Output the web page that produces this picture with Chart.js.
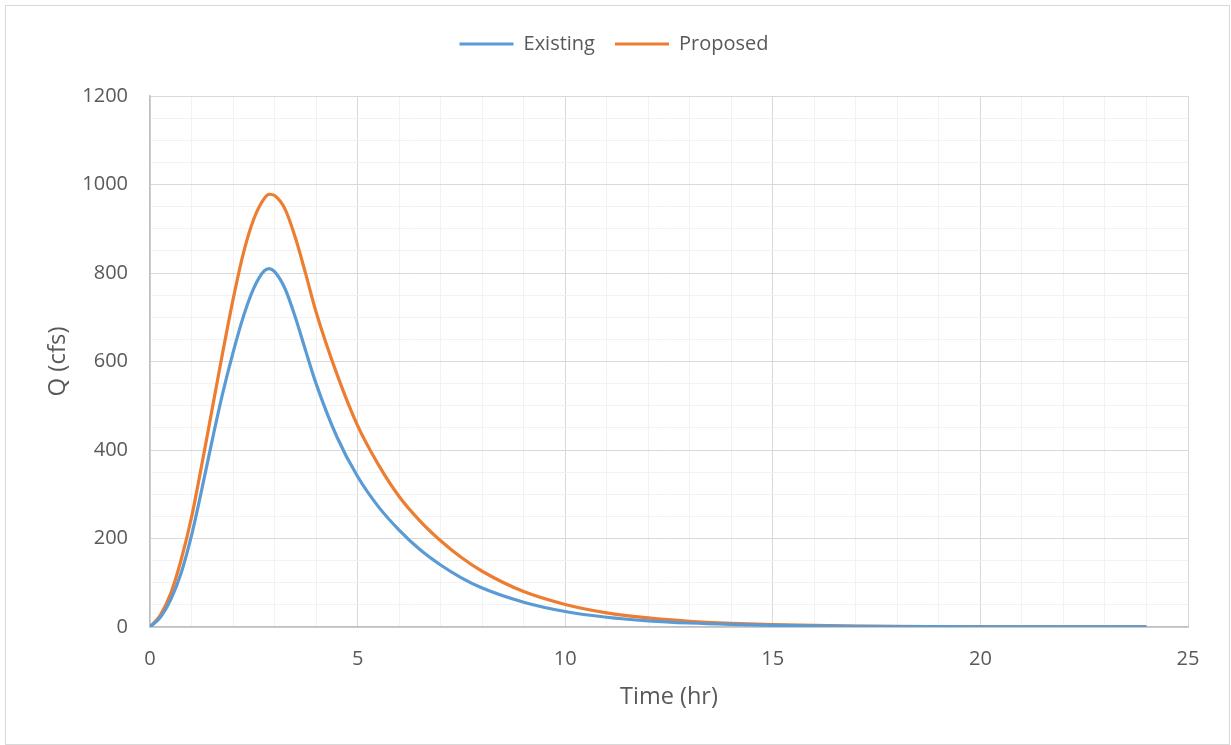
<!DOCTYPE html>
<html>
<head>
<meta charset="utf-8">
<script src="https://cdn.jsdelivr.net/npm/chart.js@4"></script>
<style>
  body { margin: 0; background: #fff; }
  #frame { position: absolute; left: 5px; top: 5px; width: 1225px; height: 740px; box-sizing: border-box; border: 1px solid #d9d9d9; }
  #wrap { position: absolute; left: 0; top: 0; width: 1231px; height: 745px; }
</style>
</head>
<body>
<div id="frame"></div>
<div id="wrap"><canvas id="hydroChart"></canvas></div>
<script>
// hydrograph values
const timeHr = [0, 0.25, 0.5, 0.75, 1, 1.25, 1.5, 1.75, 2, 2.25, 2.5, 2.75, 2.875, 3, 3.25, 3.5, 3.75, 4, 4.5, 5, 5.5, 6, 6.5, 7, 7.5, 8, 9, 10, 11, 12, 13, 14, 15, 16, 17, 18, 19, 20, 21, 22, 23, 24];
const existingQ = [0, 22, 62, 122, 207, 312, 423, 528, 620, 702, 766, 805, 810, 803, 765, 700, 624, 550, 430, 340, 272, 219, 175, 140, 111, 88, 56, 35, 22, 14, 9, 5.8, 3.7, 2.4, 1.5, 1, 0.65, 0.42, 0.27, 0.18, 0.12, 0.08];
const proposedQ = [0, 27, 76, 152, 248, 368, 494, 620, 740, 845, 922, 968, 978, 975, 945, 880, 798, 712, 572, 455, 367, 295, 240, 195, 157, 126, 80, 51, 32, 20.5, 13, 8.5, 5.5, 3.5, 2.3, 1.5, 1, 0.65, 0.42, 0.27, 0.18, 0.12];
const yTicksMajor = 200;
const xTicksMajor = 5;

function toPoints(vals) {
    return vals.map(function (v, i) { return {x: timeHr[i], y: v}; });
}

Chart.defaults.font.family = "'Open Sans', sans-serif";
Chart.defaults.color = '#595959';

// push the plot area down below the legend
const legendGap = {
    id: 'legendGap',
    beforeInit(chart) {
        const origFit = chart.legend.fit;
        chart.legend.fit = function () {
            origFit.bind(chart.legend)();
            this.height += 32;
        };
    }
};

const ctx = document.getElementById('hydroChart').getContext('2d');
const hydroChart = new Chart(ctx, {
    type: 'line',
    data: {
        datasets: [{
            label: 'Existing',
            data: toPoints(existingQ),
            borderColor: '#5B9BD5',
            backgroundColor: '#5B9BD5',
            borderWidth: 3.2,
            pointRadius: 0,
            cubicInterpolationMode: 'monotone'
        }, {
            label: 'Proposed',
            data: toPoints(proposedQ),
            borderColor: '#ED7D31',
            backgroundColor: '#ED7D31',
            borderWidth: 3.2,
            pointRadius: 0,
            cubicInterpolationMode: 'monotone'
        }]
    },
    options: {
        responsive: true,
        maintainAspectRatio: false,
        animation: false,
        layout: { padding: { left: 40, right: 43, top: 14, bottom: 30 } },
        plugins: {
            legend: {
                position: 'top',
                labels: {
                    usePointStyle: true,
                    pointStyle: 'line',
                    pointStyleWidth: 54,
                    padding: 20,
                    font: { size: 20 },
                    color: '#595959'
                }
            },
            tooltip: { enabled: false }
        },
        scales: {
            x: {
                type: 'linear',
                min: 0,
                max: 25,
                afterFit: function (scale) { scale.height = 88; },
                ticks: {
                    stepSize: 1,
                    autoSkip: false,
                    maxRotation: 0,
                    padding: 20,
                    font: { size: 20 },
                    callback: function (v) { return v % xTicksMajor === 0 ? v : ''; }
                },
                grid: {
                    drawTicks: false,
                    color: function (c) { return c.tick.value % xTicksMajor === 0 ? '#d9d9d9' : '#f2f2f2'; }
                },
                border: { color: '#bfbfbf', width: 1.5 },
                title: {
                    display: true,
                    text: 'Time (hr)',
                    font: { size: 23.5 },
                    padding: { top: 4, bottom: 4 }
                }
            },
            y: {
                min: 0,
                max: 1200,
                afterFit: function (scale) { scale.width = 110; },
                ticks: {
                    stepSize: 50,
                    autoSkip: false,
                    padding: 22,
                    font: { size: 20 },
                    callback: function (v) { return v % yTicksMajor === 0 ? v : ''; }
                },
                grid: {
                    drawTicks: false,
                    color: function (c) { return c.tick.value % yTicksMajor === 0 ? '#d9d9d9' : '#f2f2f2'; }
                },
                border: { color: '#bfbfbf', width: 1.5 },
                title: {
                    display: true,
                    text: 'Q (cfs)',
                    font: { size: 24 },
                    padding: { top: 4, bottom: 4 }
                }
            }
        }
    },
    plugins: [legendGap]
});
</script>
</body>
</html>
